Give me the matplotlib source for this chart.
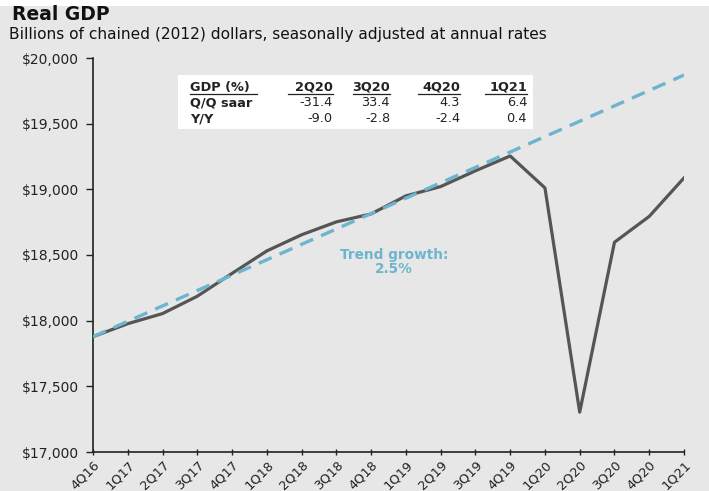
import numpy as np
import matplotlib.pyplot as plt

# Quarterly real GDP, billions of chained 2012 dollars
quarters = ['4Q16', '1Q17', '2Q17', '3Q17', '4Q17', '1Q18', '2Q18', '3Q18', '4Q18',
            '1Q19', '2Q19', '3Q19', '4Q19', '1Q20', '2Q20', '3Q20', '4Q20', '1Q21']
gdp = [17878, 17977, 18054, 18186, 18360, 18531, 18654, 18752, 18813,
       18950, 19021, 19141, 19254, 19011, 17303, 18597, 18794, 19087]

# Trend line endpoints (2.5% growth)
trend_x = [0, 17]
trend_y = [17878, 19870]

# Table data
table_cols = ['GDP (%)', '2Q20', '3Q20', '4Q20', '1Q21']
qq_saar = ['-31.4', '33.4', '4.3', '6.4']
yy = ['-9.0', '-2.8', '-2.4', '0.4']

bg = '#e7e7e7'
line_col = '#555555'
trend_col = '#6db4cf'
txt = '#222222'

W, H = 709, 491
fig = plt.figure(figsize=(W / 100, H / 100), dpi=100)
fig.patch.set_facecolor(bg)
# white strip along the top edge
fig.patches.append(plt.Rectangle((0, 1 - 6 / H), 1, 6 / H, transform=fig.transFigure,
                                 facecolor='white', edgecolor='none'))

ax = fig.add_axes([93 / W, 1 - 452 / H, (684 - 93) / W, (452 - 58) / H])
ax.set_facecolor(bg)

x = np.arange(len(quarters))
ax.plot(x, gdp, color=line_col, lw=2.3, zorder=3)
ax.plot(trend_x, trend_y, color=trend_col, lw=2.4, dashes=(4.2, 2.6), zorder=4)

ax.set_xlim(0, len(quarters) - 1)
ax.set_ylim(17000, 20000)
yt = np.arange(17000, 20001, 500)
ax.set_yticks(yt)
ax.set_yticklabels([f'${v:,.0f}' for v in yt])
ax.set_xticks(x)
ax.set_xticklabels(quarters, rotation=45, ha='right', rotation_mode='anchor')
ax.tick_params(axis='y', labelsize=10, colors=txt, length=5, width=1, direction='out', pad=5)
ax.tick_params(axis='x', labelsize=9.3, colors=txt, length=5, width=1, direction='inout', pad=2)
for s in ['top', 'right']:
    ax.spines[s].set_visible(False)
for s in ['left', 'bottom']:
    ax.spines[s].set_color('#222222')
    ax.spines[s].set_linewidth(1.2)

ax.text(8.65, 18445, 'Trend growth:\n2.5%', color=trend_col, fontsize=9.8,
        fontweight='bold', ha='center', va='center', linespacing=1.05)

fig.text(12 / W, 1 - 15 / H, 'Real GDP', fontsize=13.5, fontweight='bold', va='center', color='#111111')
fig.text(9 / W, 1 - 34 / H, 'Billions of chained (2012) dollars, seasonally adjusted at annual rates',
         fontsize=11.1, va='center', color='#111111')

# Table box
fig.patches.append(plt.Rectangle((178 / W, 1 - 129 / H), (533 - 178) / W, (129 - 75) / H,
                                 transform=fig.transFigure, facecolor='white',
                                 edgecolor='none', zorder=5))
col_right = [333, 390, 460, 527]
rows_y = [87, 103, 119]
fs_lab = 9.3
fs_val = 9.3
fig.text(190 / W, 1 - rows_y[0] / H, table_cols[0], fontsize=fs_lab, fontweight='bold',
         va='center', ha='left', color=txt, zorder=6)
for cx, lab in zip(col_right, table_cols[1:]):
    fig.text(cx / W, 1 - rows_y[0] / H, lab, fontsize=fs_lab, fontweight='bold',
             va='center', ha='right', color=txt, zorder=6)
# header underlines
for x0, x1 in [(190, 257), (288, 333), (353, 390), (418, 460), (485, 527)]:
    fig.add_artist(plt.Line2D([x0 / W, x1 / W], [1 - 94 / H, 1 - 94 / H],
                              transform=fig.transFigure, color=txt, lw=0.9, zorder=6))
for ry, lab, vals in [(rows_y[1], 'Q/Q saar', qq_saar), (rows_y[2], 'Y/Y', yy)]:
    fig.text(190 / W, 1 - ry / H, lab, fontsize=fs_lab, fontweight='bold',
             va='center', ha='left', color=txt, zorder=6)
    for cx, v in zip(col_right, vals):
        fig.text(cx / W, 1 - ry / H, v, fontsize=fs_val, va='center', ha='right',
                 color=txt, zorder=6)

fig.savefig('out.png', dpi=100, facecolor=bg)
